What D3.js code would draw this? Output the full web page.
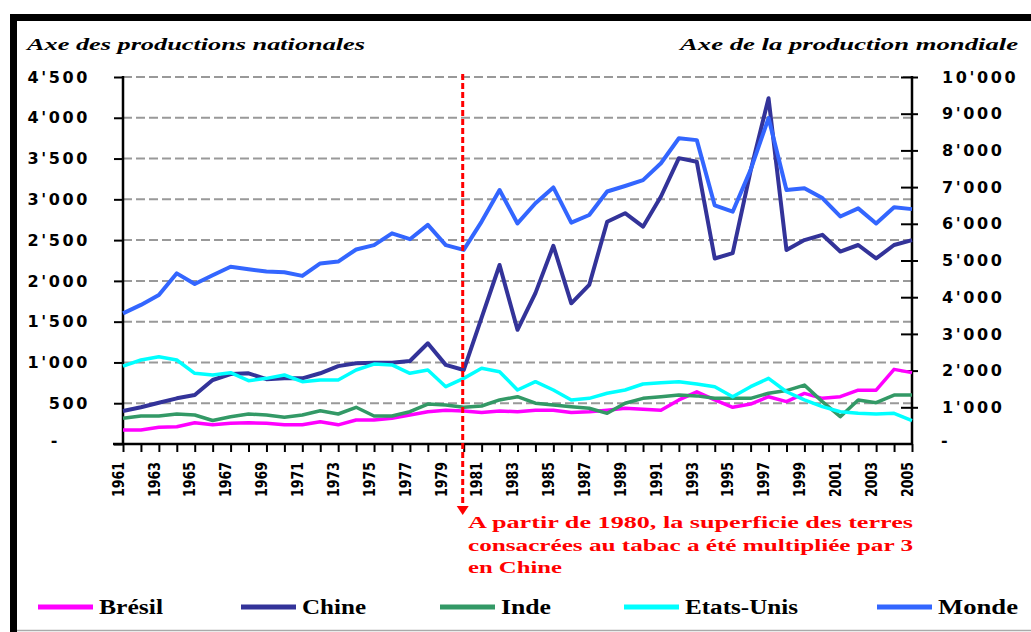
<!DOCTYPE html>
<html>
<head>
<meta charset="utf-8">
<script src="https://cdn.jsdelivr.net/npm/d3@7"></script>
<style>
  html, body { margin: 0; padding: 0; background: #fff; }
  svg { display: block; }
</style>
</head>
<body>
<svg id="chart" width="1031" height="632"></svg>
<script>
// Tobacco-growing area, 1961–2005 (national series on the left axis, world on the right axis)
const years = [1961,1962,1963,1964,1965,1966,1967,1968,1969,1970,1971,1972,1973,1974,1975,
  1976,1977,1978,1979,1980,1981,1982,1983,1984,1985,1986,1987,1988,1989,1990,
  1991,1992,1993,1994,1995,1996,1997,1998,1999,2000,2001,2002,2003,2004,2005];

const bresil = [172,172,205,212,260,235,255,260,255,235,235,272,235,295,295,
  315,355,395,415,405,385,405,395,415,415,385,395,415,438,425,
  415,540,640,540,450,490,580,520,620,560,580,660,660,915,875];

const chine = [405,450,505,560,600,785,858,867,795,805,805,867,955,990,997,
  997,1018,1235,970,907,1550,2195,1400,1850,2430,1725,1950,2725,2830,2665,
  3035,3505,3460,2275,2340,3350,4240,2380,2500,2565,2360,2440,2275,2440,2500];

const inde = [315,343,343,368,356,288,335,368,356,328,356,408,368,450,343,
  343,396,490,478,450,466,540,580,500,478,458,438,376,500,560,
  580,600,590,560,560,560,622,655,722,520,335,540,507,600,600];

const etatsUnis = [955,1030,1070,1030,867,846,874,776,805,846,764,785,785,907,980,
  970,867,907,703,805,928,887,662,764,662,540,560,622,662,736,
  752,764,736,703,580,703,805,641,540,458,396,376,368,376,286];

const monde = [3560,3790,4060,4650,4360,4600,4830,4760,4700,4680,4580,4920,4970,5300,5420,
  5740,5580,5970,5420,5290,6060,6920,6010,6560,6990,6030,6240,6880,7030,7190,
  7650,8330,8280,6500,6330,7470,8880,6920,6970,6700,6200,6420,6010,6450,6400];

const leftTicks = [0,500,1000,1500,2000,2500,3000,3500,4000,4500];
const rightTicks = [0,1000,2000,3000,4000,5000,6000,7000,8000,9000,10000];
const yearLabels = [1961,1963,1965,1967,1969,1971,1973,1975,1977,1979,1981,1983,1985,1987,
  1989,1991,1993,1995,1997,1999,2001,2003,2005];

const seriesNames = ["Brésil","Chine","Inde","Etats-Unis","Monde"];
const seriesColors = ["#FF00FF","#333399","#339966","#00FFFF","#3366FF"];
const markerYear = 1980;

const leftTitle = "Axe des productions nationales";
const rightTitle = "Axe de la production mondiale";
const noteLines = ["A partir de 1980, la superficie des terres",
                   "consacrées au tabac a été multipliée par 3",
                   "en Chine"];

// ---------------------------------------------------------------
const svg = d3.select("#chart");
const W = 1031, H = 632;
const plot = { left: 123, right: 912, top: 77, bottom: 444 };

svg.append("rect").attr("width", W).attr("height", H).attr("fill", "#fff");

// Frame
svg.append("rect").attr("x", 10).attr("y", 14).attr("width", W - 10).attr("height", 7).attr("fill", "#000");
svg.append("rect").attr("x", 10).attr("y", 14).attr("width", 7).attr("height", H - 14).attr("fill", "#000");
svg.append("line").attr("x1", 17).attr("x2", W).attr("y1", 630.5).attr("y2", 630.5)
  .attr("stroke", "#aaa").attr("stroke-width", 1.5);

const x = d3.scaleLinear().domain([years[0], years[years.length - 1]]).range([plot.left, plot.right]);
const yL = d3.scaleLinear().domain([0, 4500]).range([plot.bottom, plot.top]);
const yR = d3.scaleLinear().domain([0, 10000]).range([plot.bottom, plot.top]);

const fmt = v => v === 0 ? "-" : d3.format(",")(v).replace(/,/g, "'");
const tickFont = "'DejaVu Sans', Verdana, sans-serif";

// Horizontal dashed gridlines on the left-axis ticks
svg.append("g").selectAll("line").data(leftTicks.filter(d => d > 0)).join("line")
  .attr("x1", plot.left).attr("x2", plot.right)
  .attr("y1", d => yL(d)).attr("y2", d => yL(d))
  .attr("stroke", "#999").attr("stroke-width", 2).attr("stroke-dasharray", "9,4");

// Left axis
const gL = svg.append("g").attr("transform", `translate(${plot.left},0)`)
  .call(d3.axisLeft(yL).tickValues(leftTicks).tickSize(9).tickPadding(24).tickFormat(fmt));
gL.select(".domain").remove();
gL.selectAll(".tick line").attr("stroke", "#000").attr("stroke-width", 2);
gL.selectAll(".tick text")
  .attr("font-family", tickFont).attr("font-weight", "bold").attr("font-size", 16)
  .attr("letter-spacing", 2.6).attr("fill", "#000")
  .filter(d => d === 0).attr("x", -63).attr("dy", "0.1em");
svg.append("line").attr("x1", plot.left).attr("x2", plot.left).attr("y1", plot.top - 1).attr("y2", plot.bottom)
  .attr("stroke", "#000").attr("stroke-width", 2.5);

// Right axis
const gR = svg.append("g").attr("transform", `translate(${plot.right},0)`)
  .call(d3.axisRight(yR).tickValues(rightTicks).tickSize(6).tickPadding(24).tickFormat(fmt));
gR.select(".domain").remove();
gR.selectAll(".tick line").attr("x1", -11).attr("stroke", "#000").attr("stroke-width", 2)
  .filter(d => d === 0).remove();
gR.selectAll(".tick text")
  .attr("font-family", tickFont).attr("font-weight", "bold").attr("font-size", 16)
  .attr("letter-spacing", 2.6).attr("fill", "#000")
  .filter(d => d === 0).attr("x", 29).attr("dy", "0.1em");
svg.append("line").attr("x1", plot.right).attr("x2", plot.right).attr("y1", plot.top - 1).attr("y2", plot.bottom)
  .attr("stroke", "#000").attr("stroke-width", 2.5);

// Bottom axis: a tick per year, a label every second year
const gX = svg.append("g").attr("transform", `translate(0,${plot.bottom})`)
  .call(d3.axisBottom(x).tickValues(years).tickSize(8)
    .tickFormat(d => yearLabels.includes(d) ? String(d) : ""));
gX.select(".domain").remove();
gX.selectAll(".tick line").attr("stroke", "#000").attr("stroke-width", 2);
gX.selectAll(".tick text")
  .attr("font-family", "'DejaVu Sans', Verdana, sans-serif").attr("font-weight", "bold")
  .attr("font-size", 15).attr("fill", "#000")
  .attr("transform", "rotate(-90)")
  .attr("text-anchor", "end").attr("x", -18).attr("y", -5).attr("dy", "0.35em")
  .attr("textLength", 35).attr("lengthAdjust", "spacingAndGlyphs");
svg.append("line").attr("x1", plot.left - 10).attr("x2", plot.right + 1)
  .attr("y1", plot.bottom).attr("y2", plot.bottom).attr("stroke", "#000").attr("stroke-width", 2.5);

// Series, drawn as straight segments between yearly values
const lineL = d3.line().x((d, i) => x(years[i])).y(d => yL(d)).curve(d3.curveLinear);
const lineR = d3.line().x((d, i) => x(years[i])).y(d => yR(d)).curve(d3.curveLinear);
const national = [bresil, chine, inde, etatsUnis];

national.forEach((vals, k) => {
  svg.append("path").datum(vals).attr("d", lineL)
    .attr("fill", "none").attr("stroke", seriesColors[k])
    .attr("stroke-width", k === 1 ? 4 : 3.5).attr("stroke-linejoin", "round");
});
svg.append("path").datum(monde).attr("d", lineR)
  .attr("fill", "none").attr("stroke", seriesColors[4])
  .attr("stroke-width", 4).attr("stroke-linejoin", "round");

// 1980 marker with arrow
const mx = x(markerYear) - 1;
svg.append("line").attr("x1", mx).attr("x2", mx).attr("y1", plot.top - 3).attr("y2", 507)
  .attr("stroke", "#FF0000").attr("stroke-width", 3).attr("stroke-dasharray", "6,3");
svg.append("path")
  .attr("d", `M${mx - 6},506 L${mx + 6},506 L${mx},515 Z`).attr("fill", "#FF0000");

const note = svg.append("g").attr("font-family", "'Liberation Serif', 'DejaVu Serif', serif")
  .attr("font-weight", "bold").attr("font-size", 16).attr("fill", "#FF0000");
const noteWidths = [445, 445, 94];
noteLines.forEach((t, i) => {
  note.append("text").attr("x", 468).attr("y", 528 + i * 22.5)
    .attr("textLength", noteWidths[i]).attr("lengthAdjust", "spacingAndGlyphs").text(t);
});

// Axis titles
svg.append("text").attr("x", 27).attr("y", 50)
  .attr("font-family", "'Liberation Serif', 'DejaVu Serif', serif").attr("font-style", "italic")
  .attr("font-weight", "bold").attr("font-size", 17)
  .attr("textLength", 338).attr("lengthAdjust", "spacingAndGlyphs").text(leftTitle);
svg.append("text").attr("x", 1018).attr("y", 50).attr("text-anchor", "end")
  .attr("font-family", "'Liberation Serif', 'DejaVu Serif', serif").attr("font-style", "italic")
  .attr("font-weight", "bold").attr("font-size", 17)
  .attr("textLength", 338).attr("lengthAdjust", "spacingAndGlyphs").text(rightTitle);

// Legend
const legendX = [38, 241, 440, 624, 877];
const legendTextW = [64, 64, 50, 113, 80];
const legend = svg.append("g");
seriesNames.forEach((name, i) => {
  legend.append("line").attr("x1", legendX[i]).attr("x2", legendX[i] + 55)
    .attr("y1", 607).attr("y2", 607).attr("stroke", seriesColors[i]).attr("stroke-width", 5);
  legend.append("text").attr("x", legendX[i] + 61).attr("y", 614)
    .attr("font-family", "'Liberation Serif', 'DejaVu Serif', serif").attr("font-weight", "bold")
    .attr("font-size", 20).attr("fill", "#000")
    .attr("textLength", legendTextW[i]).attr("lengthAdjust", "spacingAndGlyphs").text(name);
});
</script>
</body>
</html>
